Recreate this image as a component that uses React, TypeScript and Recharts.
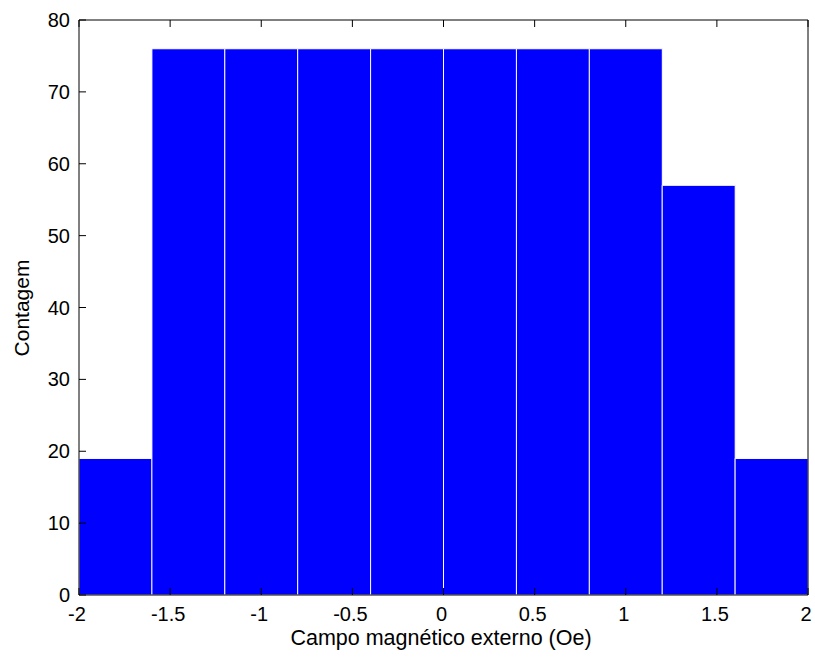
import { Bar, BarChart, XAxis, YAxis } from "recharts";

// histogram bins (10 bins of width 0.4 between -2 and 2)
const binCenters = [-1.8, -1.4, -1.0, -0.6, -0.2, 0.2, 0.6, 1.0, 1.4, 1.8];
const counts = [19, 76, 76, 76, 76, 76, 76, 76, 57, 19];

const xTicks = [-2, -1.5, -1, -0.5, 0, 0.5, 1, 1.5, 2];
const yTicks = [0, 10, 20, 30, 40, 50, 60, 70, 80];

const xTitle = "Campo magnético externo (Oe)";
const yTitle = "Contagem";

const data = binCenters.map((c, i) => ({ bin: String(i), center: c, count: counts[i] }));

const FONT = "Arial, 'Liberation Sans', sans-serif";
const FS = 20;
const AXIS = "#000";
const TL = 7; // inward tick length

// ticks drawn inward like matlab
const renderBottomTick = (p: any) => (
  <g key={`b-${p.index}`}>
    <line x1={p.x} y1={p.y} x2={p.x} y2={p.y - TL} stroke={AXIS} />
    <text x={p.x - 2} y={p.y + 12} dy="0.71em" textAnchor="middle" fontSize={FS} fontFamily={FONT} fill="#000">
      {String(p.payload.value)}
    </text>
  </g>
);

const renderLeftTick = (p: any) => (
  <g key={`l-${p.index}`}>
    <line x1={p.x} y1={p.y} x2={p.x + TL} y2={p.y} stroke={AXIS} />
    <text x={p.x - 9} y={p.y} dy="0.355em" textAnchor="end" fontSize={FS} fontFamily={FONT} fill="#000">
      {String(p.payload.value)}
    </text>
  </g>
);

const renderTopTick = (p: any) => (
  <line key={`t-${p.index}`} x1={p.x} y1={p.y} x2={p.x} y2={p.y + TL} stroke={AXIS} />
);

const renderRightTick = (p: any) => (
  <line key={`r-${p.index}`} x1={p.x} y1={p.y} x2={p.x - TL} y2={p.y} stroke={AXIS} />
);

export default function App() {
  return (
    <div style={{ position: "absolute", left: 0, top: 0, width: 815, height: 659, background: "#fff" }}>
      <BarChart
        width={815}
        height={659}
        data={data}
        margin={{ top: 19, right: 6, left: 0, bottom: 0 }}
        barCategoryGap={0}
      >
        <XAxis xAxisId="cat" dataKey="bin" hide height={0} />
        <XAxis
          xAxisId="num"
          type="number"
          dataKey="center"
          domain={[-2, 2]}
          ticks={xTicks}
          interval={0}
          allowDataOverflow
          height={64}
          tickSize={0}
          tickMargin={0}
          tickLine={false}
          stroke={AXIS}
          tick={renderBottomTick}
        />
        <XAxis
          xAxisId="top"
          orientation="top"
          type="number"
          dataKey="center"
          domain={[-2, 2]}
          ticks={xTicks}
          interval={0}
          allowDataOverflow
          height={1}
          tickSize={0}
          tickMargin={0}
          tickLine={false}
          tick={renderTopTick}
          stroke={AXIS}
        />
        <YAxis
          yAxisId="left"
          type="number"
          domain={[0, 80]}
          ticks={yTicks}
          interval={0}
          width={79}
          tickSize={0}
          tickMargin={0}
          tickLine={false}
          stroke={AXIS}
          tick={renderLeftTick}
        />
        <YAxis
          yAxisId="right"
          orientation="right"
          type="number"
          domain={[0, 80]}
          ticks={yTicks}
          interval={0}
          width={1}
          tickSize={0}
          tickMargin={0}
          tickLine={false}
          tick={renderRightTick}
          stroke={AXIS}
        />
        <Bar
          xAxisId="cat"
          yAxisId="left"
          dataKey="count"
          fill="#0000ff"
          stroke="#ffffff"
          strokeWidth={1}
          isAnimationActive={false}
        />
      </BarChart>
      <svg width={815} height={659} style={{ position: "absolute", left: 0, top: 0, pointerEvents: "none" }}>
        <text x={441} y={645} textAnchor="middle" fontSize={21.5} fontFamily={FONT} fill="#000">
          {xTitle}
        </text>
        <text x={29} y={308} transform="rotate(-90, 29, 308)" textAnchor="middle" fontSize={21} fontFamily={FONT} fill="#000">
          {yTitle}
        </text>
      </svg>
    </div>
  );
}
